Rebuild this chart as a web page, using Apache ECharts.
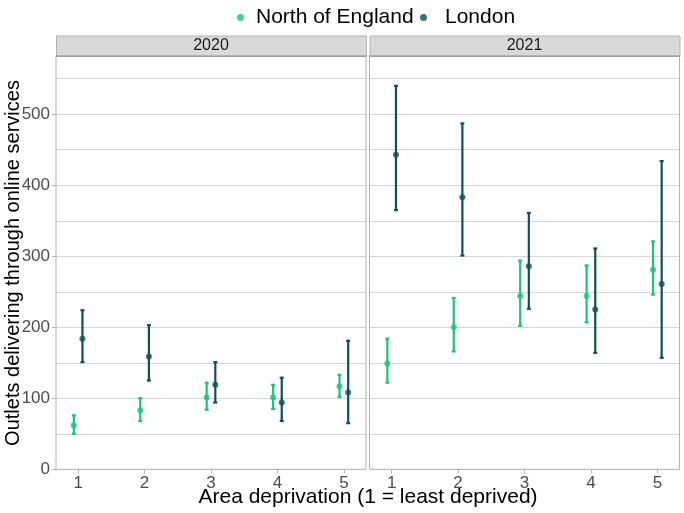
<!DOCTYPE html>
<html><head><meta charset="utf-8">
<script src="https://cdn.jsdelivr.net/npm/echarts@6/dist/echarts.min.js"></script>
<style>html,body{margin:0;padding:0;background:#fff}#c{width:684px;height:513px}</style>
</head><body><div id="c"></div>
<script>
const categories = [1, 2, 3, 4, 5];
const yTickLabels = [0, 100, 200, 300, 400, 500];
const panels = ['2020', '2021'];

const north2020 = [62, 83, 101, 101, 117];
const north2020Lo = [50, 68, 84, 85, 102];
const north2020Hi = [76, 100, 122, 119, 133];
const london2020 = [184, 159, 119, 94, 108];
const london2020Lo = [151, 125, 94, 68, 65];
const london2020Hi = [224, 203, 151, 129, 181];

const north2021 = [149, 200, 244, 244, 281];
const north2021Lo = [122, 166, 202, 207, 246];
const north2021Hi = [184, 241, 294, 287, 321];
const london2021 = [443, 383, 286, 225, 261];
const london2021Lo = [365, 301, 226, 164, 157];
const london2021Hi = [540, 487, 361, 311, 434];

const GREEN = '#1cc47a';
const DARK = '#114f56';
const FONT = 'Liberation Sans, Arial, sans-serif';
const dodge = 0.065;
const YMAX = 582;

const chart = echarts.init(document.getElementById('c'), null, {renderer: 'canvas'});

const gridTop = 56, gridH = 413.3, gridW = 310;
const gridLefts = [56, 369.5];

function xAxisFor(i) {
  return {
    type: 'value', gridIndex: i, min: 0.6667, max: 5.3333,
    axisLine: {show: false},
    splitLine: {show: false},
    axisTick: {show: true, customValues: categories, length: 4, lineStyle: {color: '#b3b3b3', width: 1}},
    axisLabel: {customValues: categories, color: '#4d4d4d', fontSize: 17, fontFamily: FONT, margin: 6}
  };
}
function yGridAxis(i) {
  return {
    type: 'value', gridIndex: i, min: 0, max: YMAX, interval: 50,
    axisLine: {show: false},
    splitLine: {show: true, lineStyle: {color: '#d6d6d6', width: 1}},
    axisTick: {show: false},
    axisLabel: {show: false}
  };
}
const yLabelAxis = {
  type: 'value', gridIndex: 0, position: 'left', min: 0, max: YMAX,
  axisLine: {show: false},
  splitLine: {show: false},
  axisTick: {show: true, customValues: yTickLabels, length: 4, lineStyle: {color: '#b3b3b3'}},
  axisLabel: {show: true, customValues: yTickLabels, color: '#4d4d4d', fontSize: 17, fontFamily: FONT, margin: 6}
};

function pts(vals, off) { return vals.map((v, k) => [categories[k] + off, v]); }
function bars(lo, hi, off) { return lo.map((l, k) => [categories[k] + off, l, hi[k]]); }

function errSeries(name, data, idx, color) {
  return {
    type: 'custom', name: name, xAxisIndex: idx, yAxisIndex: idx, z: 2,
    data: data,
    encode: {x: 0, y: [1, 2]},
    renderItem: function (params, api) {
      const x = api.value(0);
      const p1 = api.coord([x, api.value(1)]);
      const p2 = api.coord([x, api.value(2)]);
      const cw = 2;
      const st = {stroke: color, lineWidth: 2.2};
      return {type: 'group', children: [
        {type: 'line', shape: {x1: p1[0], y1: p1[1], x2: p2[0], y2: p2[1]}, style: st},
        {type: 'line', shape: {x1: p1[0] - cw, y1: p1[1], x2: p1[0] + cw, y2: p1[1]}, style: st},
        {type: 'line', shape: {x1: p2[0] - cw, y1: p2[1], x2: p2[0] + cw, y2: p2[1]}, style: st}
      ]};
    }
  };
}
function ptSeries(name, data, idx, color) {
  return {type: 'scatter', name: name, xAxisIndex: idx, yAxisIndex: idx, z: 3,
    symbol: 'circle', symbolSize: 6, itemStyle: {color: color}, data: data};
}

const series = [
  ptSeries('North of England', pts(north2020, -dodge), 0, GREEN),
  ptSeries('London', pts(london2020, dodge), 0, DARK),
  ptSeries('North of England', pts(north2021, -dodge), 1, GREEN),
  ptSeries('London', pts(london2021, dodge), 1, DARK),
  errSeries('North of England', bars(north2020Lo, north2020Hi, -dodge), 0, GREEN),
  errSeries('London', bars(london2020Lo, london2020Hi, dodge), 0, DARK),
  errSeries('North of England', bars(north2021Lo, north2021Hi, -dodge), 1, GREEN),
  errSeries('London', bars(london2021Lo, london2021Hi, dodge), 1, DARK)
];

const graphics = [];
gridLefts.forEach((l, i) => {
  graphics.push({type: 'rect', left: l, top: 35.5, z: 10,
    shape: {width: gridW, height: 20.5}, style: {fill: '#d9d9d9', stroke: '#b3b3b3', lineWidth: 1}});
  graphics.push({type: 'line', z: 11, shape: {x1: l, y1: 56, x2: l + gridW, y2: 56}, style: {stroke: '#8c8c8c', lineWidth: 1}});
  graphics.push({type: 'text', z: 12, x: l + gridW / 2, y: 46,
    style: {text: panels[i], fill: '#1a1a1a', font: '16px ' + FONT, textAlign: 'center', textVerticalAlign: 'middle'}});
  graphics.push({type: 'rect', z: 9, shape: {x: l, y: gridTop, width: gridW, height: gridH},
    style: {fill: 'none', stroke: '#b3b3b3', lineWidth: 1}});
});
graphics.push({type: 'text', z: 12, x: 368, y: 497,
  style: {text: 'Area deprivation (1 = least deprived)', fill: '#000', font: '21px ' + FONT, textAlign: 'center', textVerticalAlign: 'middle'}});
graphics.push({type: 'text', z: 12, x: 13, y: 263, rotation: Math.PI / 2,
  style: {text: 'Outlets delivering through online services', fill: '#000', font: '20px ' + FONT, textAlign: 'center', textVerticalAlign: 'middle'}});

function legendFor(name, left, pad) {
  return {
    data: [name], top: 2, left: left,
    icon: 'circle', itemWidth: 7, itemHeight: 7,
    textStyle: {fontSize: 21, fontFamily: FONT, color: '#000', padding: [0, 0, 0, pad]}
  };
}

chart.setOption({
  animation: false,
  backgroundColor: '#ffffff',
  grid: gridLefts.map(l => ({left: l, top: gridTop, width: gridW, height: gridH, containLabel: false})),
  xAxis: [xAxisFor(0), xAxisFor(1)],
  yAxis: [yGridAxis(0), yGridAxis(1), yLabelAxis],
  legend: [legendFor('North of England', 232, 7), legendFor('London', 415, 13)],
  graphic: graphics,
  series: series
});
</script></body></html>
